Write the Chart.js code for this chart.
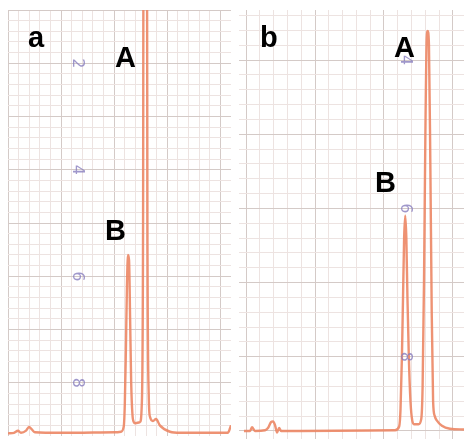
<!DOCTYPE html>
<html>
<head>
<meta charset="utf-8">
<script src="https://cdn.jsdelivr.net/npm/chart.js@4/dist/chart.umd.min.js"></script>
<style>
  html, body { margin: 0; padding: 0; background: #ffffff; width: 464px; height: 439px; overflow: hidden; }
  canvas { position: absolute; }
  #ca { left: 8px; top: 10px; }
  #cb { left: 239px; top: 10px; }
</style>
</head>
<body>
<canvas id="ca" width="223" height="426"></canvas>
<canvas id="cb" width="225" height="429"></canvas>
<script>
// ---- Panel a: chromatogram trace (time in chart-paper divisions, signal in divisions)
const aTime   = [0, 0.57, 0.94, 1.22, 1.7, 1.98, 2.26, 2.54, 4.9, 10.08, 10.64, 10.9, 11.0, 11.1, 11.2, 11.3, 11.4, 11.5, 11.6, 11.72, 11.85, 11.96, 12.43, 12.6, 12.72, 12.76, 13.09, 13.13, 13.25, 13.37, 13.65, 13.94, 14.3, 15.25, 16.2, 20.7, 20.9, 21];
const aSignal = [0.25, 0.3, 0.5, 0.3, 0.5, 0.85, 0.6, 0.35, 0.3, 0.35, 0.4, 0.9, 3, 8, 14, 17, 16.5, 11, 5, 2, 1.3, 1.2, 1.3, 3, 20, 46, 46, 20, 4, 1.8, 1.4, 1.6, 1.0, 0.4, 0.3, 0.3, 0.7, 1.0];

// ---- Panel b
const bTime   = [-5.15, -4.71, -4.57, -4.35, -3.62, -3.41, -3.19, -3.04, -2.9, -2.75, -2.6, -2.46, -1.09, 5.8, 6.1, 6.2, 6.3, 6.38, 6.46, 6.54, 6.62, 6.7, 6.8, 6.92, 7.05, 7.2, 7.5, 7.7, 7.8, 7.9, 8.0, 8.1, 8.17, 8.26, 8.36, 8.46, 8.56, 8.68, 8.84, 9.2, 9.78, 10.8];
const bSignal = [0.0, 0.0, 0.25, 0.0, 0.05, 0.2, 0.6, 0.65, 0.4, -0.1, 0.2, 0.0, 0.0, 0.05, 0.3, 1.5, 5, 9, 13, 14.5, 13, 9, 5, 2, 0.7, 0.45, 0.45, 0.8, 3, 10, 20, 26.5, 26.95, 26, 18, 8, 2, 1.0, 0.7, 0.35, 0.15, 0.1];

// ---- Handwritten purple marks on the chart paper (at major signal lines)
const aMarkValues = [35, 25, 15, 5];
const aMarkLabels = ["2", "4", "6", "8"];
const bMarkValues = [25, 15, 5];
const bMarkLabels = ["4", "6", "8"];

// ---- Panel / peak letters
const aLetters = ["a", "A", "B"];
const bLetters = ["b", "A", "B"];

const MINOR = '#ede3e1';
const MAJOR = '#d4cac7';
const TRACE = 'rgba(236,134,100,0.9)';

function integerTicks(axis) {
  const t = [];
  for (let v = Math.ceil(axis.min); v <= Math.floor(axis.max); v++) t.push({ value: v });
  axis.ticks = t;
}
function gridColor(ctx) {
  const v = ctx.tick ? ctx.tick.value : 0;
  return (Math.round(v) % 5 === 0) ? MAJOR : MINOR;
}
function axisCfg(min, max) {
  return {
    type: 'linear', min, max,
    afterBuildTicks: integerTicks,
    ticks: { display: false },
    grid: { color: gridColor, lineWidth: 1, drawTicks: false },
    border: { display: false }
  };
}

const decor = {
  id: 'decor',
  afterDatasetsDraw(chart, args, opts) {
    const ctx = chart.ctx;
    const xs = chart.scales.x, ys = chart.scales.y;
    ctx.save();
    // purple handwritten marks
    ctx.fillStyle = 'rgba(135,125,190,0.8)';
    ctx.font = '16px "DejaVu Sans"';
    ctx.textAlign = 'center';
    ctx.textBaseline = 'middle';
    opts.markValues.forEach((v, i) => {
      ctx.save();
      ctx.translate(xs.getPixelForValue(opts.markX), ys.getPixelForValue(v));
      ctx.rotate(Math.PI / 2);
      ctx.fillText(opts.markLabels[i], 0, 0);
      ctx.restore();
    });
    // letters
    ctx.fillStyle = '#000000';
    ctx.font = 'bold 29px "Liberation Sans"';
    ctx.textAlign = 'left';
    ctx.textBaseline = 'alphabetic';
    opts.letters.forEach((s, i) => {
      const p = opts.letterPos[i];
      ctx.fillText(s, p[0], p[1]);
    });
    ctx.restore();
  }
};

function makeChart(id, times, signals, xr, yr, marks, labels, markX, letters, letterPos) {
  return new Chart(document.getElementById(id), {
    type: 'line',
    data: {
      datasets: [{
        data: times.map((t, i) => ({ x: t, y: signals[i] })),
        borderColor: TRACE,
        borderWidth: 2.4,
        pointRadius: 0,
        cubicInterpolationMode: 'monotone',
        fill: false
      }]
    },
    options: {
      responsive: false,
      devicePixelRatio: 1,
      animation: false,
      layout: { padding: 0 },
      plugins: {
        legend: { display: false },
        tooltip: { enabled: false },
        decor: { markValues: marks, markLabels: labels, markX, letters, letterPos }
      },
      scales: { x: axisCfg(xr[0], xr[1]), y: axisCfg(yr[0], yr[1]) }
    },
    plugins: [decor]
  });
}

makeChart('ca', aTime, aSignal, [0, 21], [0, 40], aMarkValues, aMarkLabels, 6.5,
  aLetters, [[20, 37], [107, 57], [97, 230]]);
makeChart('cb', bTime, bSignal, [-5.51, 10.8], [-0.54, 28.37], bMarkValues, bMarkLabels, 6.5,
  bLetters, [[21, 37], [155, 47], [136, 182]]);
</script>
</body>
</html>
